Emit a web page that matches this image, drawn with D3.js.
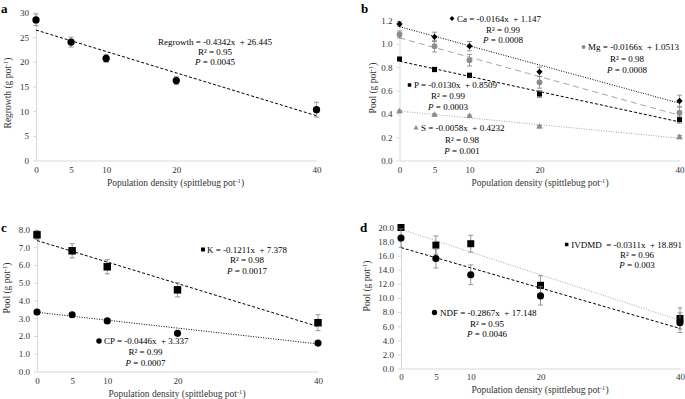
<!DOCTYPE html>
<html><head><meta charset="utf-8">
<script src="https://cdn.jsdelivr.net/npm/d3@7"></script>
<style>
body{margin:0;background:#fff}
svg, svg text{font-family:"Liberation Serif","Times New Roman",serif}
text{white-space:pre}
</style>
</head><body>
<svg id="chart" width="685" height="399" font-family="Liberation Serif, serif"></svg>
<script>
// ---------- data ----------
const density = [0, 5, 10, 20, 40];
const xTickLabels = [0, 5, 10, 20, 40];

const regrowth    = [28.5, 24.0, 20.7, 16.2, 10.3];
const regrowthErr = [1.2, 1.0, 0.8, 0.8, 1.5];

const caPool  = [1.17, 1.06, 0.98, 0.76, 0.51];
const caErr   = [0.02, 0.04, 0.04, 0.04, 0.05];
const mgPool  = [1.08, 0.98, 0.86, 0.67, 0.41];
const mgErr   = [0.03, 0.05, 0.05, 0.05, 0.05];
const pPool   = [0.87, 0.78, 0.73, 0.57, 0.35];
const pErr    = [0.01, 0.02, 0.02, 0.03, 0.03];
const sPool   = [0.42, 0.39, 0.38, 0.29, 0.20];
const sErr    = [0.01, 0.01, 0.01, 0.01, 0.015];

const kPool   = [7.7, 6.8, 5.9, 4.6, 2.75];
const kErr    = [0.25, 0.4, 0.4, 0.4, 0.45];
const cpPool  = [3.35, 3.2, 2.85, 2.15, 1.6];
const cpErr   = [0.05, 0.05, 0.05, 0.05, 0.05];

const ivdmdPool = [20.0, 17.5, 17.7, 11.8, 7.1];
const ivdmdErr  = [0.3, 1.3, 1.2, 1.35, 1.5];
const ndfPool   = [18.5, 15.6, 13.3, 10.3, 6.5];
const ndfErr    = [1.3, 1.35, 1.4, 1.3, 1.4];

// trend lines [slope, intercept] as drawn
const trendRegrowth = [-0.4342, 26.445];
const trendCa = [-0.0164, 1.147];
const trendMg = [-0.0166, 1.0513];
const trendP  = [-0.0130, 0.8509];
const trendS  = [-0.0058, 0.4232];
const trendK  = [-0.1211, 7.378];
const trendCP = [-0.0446, 3.337];
const trendIVDMD = [-0.323, 19.75];
const trendNDF = [-0.2867, 17.148];

const yTicksA = [0, 5, 10, 15, 20, 25, 30];
const yTicksB = [0, 0.2, 0.4, 0.6, 0.8, 1.0, 1.2];
const yTicksC = [0, 1, 2, 3, 4, 5, 6, 7, 8];
const yTicksD = [0, 2, 4, 6, 8, 10, 12, 14, 16, 18, 20];

// ---------- drawing ----------
const FONT = '"Liberation Serif","Times New Roman",serif';
const svg = d3.select("#chart");
const BLACK = "#000", GREY = "#8c8c8c", GREYLINE = "#a6a6a6", AXIS = "#d9d9d9";

function sym(shape, size) {
  const types = {circle: d3.symbolCircle, square: d3.symbolSquare, diamond: d3.symbolSquare, triangle: d3.symbolTriangle};
  return d3.symbol().type(types[shape]).size(size)();
}

function addSup(t, main, sup, tail) {
  t.append("tspan").text(main);
  t.append("tspan").attr("dy", -3.5).attr("font-size", "6.5px").text(sup);
  t.append("tspan").attr("dy", 3.5).text(tail);
}

function panel(cfg) {
  const g = svg.append("g").style("font-family", FONT);
  const x = d3.scaleLinear().domain([0, 40]).range([cfg.x0, cfg.x1]);
  const y = d3.scaleLinear().domain([0, cfg.ymax]).range([cfg.y0, cfg.y1]);

  // y axis
  const ya = g.append("g").attr("transform", `translate(${cfg.x0},0)`)
    .call(d3.axisLeft(y).tickValues(cfg.yTicks).tickSize(3).tickSizeOuter(0).tickPadding(4).tickFormat(cfg.fmt));
  ya.attr("font-family", null).style("font-family", FONT);
  ya.select(".domain").attr("stroke", AXIS);
  ya.selectAll(".tick line").attr("stroke", AXIS);
  ya.selectAll(".tick text").attr("font-size", "9px").attr("fill", "#333");

  // x axis
  const xa = g.append("g").attr("transform", `translate(0,${cfg.y0})`)
    .call(d3.axisBottom(x).tickValues(xTickLabels).tickSize(0).tickSizeOuter(0).tickPadding(cfg.xPad).tickFormat(d3.format("d")));
  xa.attr("font-family", null).style("font-family", FONT);
  xa.select(".domain").attr("stroke", AXIS);
  xa.selectAll(".tick text").attr("font-size", "9px").attr("fill", "#333");

  // axis titles
  const xt = g.append("text").attr("x", cfg.xtX).attr("y", cfg.xtY).attr("text-anchor", "middle")
    .attr("font-size", "9.5px").attr("fill", "#333");
  addSup(xt, "Population density (spittlebug pot", "-1", ")");
  const yt = g.append("text").attr("transform", `translate(${cfg.ytX},${cfg.ytY}) rotate(-90)`)
    .attr("text-anchor", "middle").attr("font-size", "9.5px").attr("fill", "#333");
  addSup(yt, cfg.yTitle + " (g pot", "-1", ")");

  // panel letter
  g.append("text").attr("x", cfg.letterX).attr("y", cfg.letterY).attr("font-size", "13px")
    .attr("font-weight", "bold").text(cfg.letter);

  cfg.series.forEach(s => {
    // trend line
    g.append("line")
      .attr("x1", x(0)).attr("y1", y(s.trend[1]))
      .attr("x2", x(40)).attr("y2", y(s.trend[1] + s.trend[0] * 40))
      .attr("stroke", s.lineColor).attr("stroke-width", 1).attr("stroke-dasharray", s.dash);
    // error bars
    const eb = g.append("g").attr("stroke", "#7f7f7f").attr("stroke-width", 0.8);
    density.forEach((d, i) => {
      const v = s.values[i], e = s.err[i];
      eb.append("line").attr("x1", x(d)).attr("x2", x(d)).attr("y1", y(v - e)).attr("y2", y(v + e));
      eb.append("line").attr("x1", x(d) - 2.5).attr("x2", x(d) + 2.5).attr("y1", y(v - e)).attr("y2", y(v - e));
      eb.append("line").attr("x1", x(d) - 2.5).attr("x2", x(d) + 2.5).attr("y1", y(v + e)).attr("y2", y(v + e));
    });
    // markers
    g.append("g").selectAll("path").data(density).join("path")
      .attr("d", sym(s.shape, s.size))
      .attr("transform", (d, i) => `translate(${x(d)},${y(s.values[i])})${s.shape === "diamond" ? " rotate(45)" : ""}`)
      .attr("fill", s.color);

    // equation label
    const L = s.label;
    const t1 = g.append("text").attr("y", L.ys[0]).attr("font-size", "9px").attr("fill", BLACK);
    if (L.anchor === "middle") t1.attr("x", L.cx).attr("text-anchor", "middle");
    else if (L.xEnd !== undefined) t1.attr("x", L.xEnd).attr("text-anchor", "end");
    else t1.attr("x", L.x1);
    t1.text(L.eq);
    if (L.anchor !== "middle") {
      const bb = t1.node().getBBox();
      g.append("path").attr("d", sym(s.shape, L.msize))
        .attr("transform", `translate(${bb.x - L.mgap},${L.ys[0] - 3})${s.shape === "diamond" ? " rotate(45)" : ""}`)
        .attr("fill", s.color);
    }
    g.append("text").attr("x", L.cx).attr("y", L.ys[1]).attr("text-anchor", "middle")
      .attr("font-size", "9px").text(L.r2);
    const t3 = g.append("text").attr("x", L.cx).attr("y", L.ys[2]).attr("text-anchor", "middle").attr("font-size", "9px");
    t3.append("tspan").attr("font-style", "italic").text("P");
    t3.append("tspan").text(" = " + L.p);
  });
}

panel({
  letter: "a", letterX: 1, letterY: 13,
  x0: 36, x1: 316.5, y0: 160.5, y1: 12.5, ymax: 30, yTicks: yTicksA, fmt: d3.format("d"), xPad: 6,
  xtX: 175.5, xtY: 186, ytX: 11, ytY: 93, yTitle: "Regrowth",
  series: [
    {values: regrowth, err: regrowthErr, trend: trendRegrowth, shape: "circle", size: 42, color: BLACK,
     lineColor: BLACK, dash: "3,2",
     label: {anchor: "middle", cx: 215, ys: [45, 55, 65], eq: "Regrowth = -0.4342x  + 26.445", r2: "R² = 0.95", p: "0.0045"}}
  ]
});

panel({
  letter: "b", letterX: 361, letterY: 13,
  x0: 399.5, x1: 679.5, y0: 160.5, y1: 20.5, ymax: 1.2, yTicks: yTicksB, fmt: d3.format(".1f"), xPad: 6.5,
  xtX: 540, xtY: 186, ytX: 376, ytY: 88, yTitle: "Pool",
  series: [
    {values: caPool, err: caErr, trend: trendCa, shape: "diamond", size: 20, color: BLACK, lineColor: BLACK, dash: "1,1.5",
     label: {mgap: 5, msize: 12, x1: 457, cx: 503, ys: [21.5, 32.5, 42.5], eq: "Ca = -0.0164x  + 1.147", r2: "R² = 0.99", p: "0.0008"}},
    {values: mgPool, err: mgErr, trend: trendMg, shape: "circle", size: 26, color: GREY, lineColor: GREYLINE, dash: "6,4",
     label: {mgap: 4.5, msize: 12, xEnd: 679, cx: 627, ys: [50, 61.5, 72.5], eq: "Mg = -0.0166x  + 1.0513", r2: "R² = 0.98", p: "0.0008"}},
    {values: pPool, err: pErr, trend: trendP, shape: "square", size: 25, color: BLACK, lineColor: BLACK, dash: "3,2",
     label: {mgap: 4.5, msize: 12, x1: 414, cx: 448, ys: [88, 99, 109.5], eq: "P = -0.0130x  + 0.8509", r2: "R² = 0.99", p: "0.0003"}},
    {values: sPool, err: sErr, trend: trendS, shape: "triangle", size: 18, color: GREY, lineColor: GREYLINE, dash: "1,1.5",
     label: {mgap: 5, msize: 11, x1: 421, cx: 462, ys: [131, 142.5, 153.5], eq: "S = -0.0058x  + 0.4232", r2: "R² = 0.98", p: "0.001"}}
  ]
});

panel({
  letter: "c", letterX: 1, letterY: 232,
  x0: 37, x1: 318, y0: 371.5, y1: 229.5, ymax: 8, yTicks: yTicksC, fmt: d3.format(".1f"), xPad: 6,
  xtX: 177, xtY: 397, ytX: 10, ytY: 288, yTitle: "Pool",
  series: [
    {values: kPool, err: kErr, trend: trendK, shape: "square", size: 56, color: BLACK, lineColor: BLACK, dash: "3,2",
     label: {mgap: 4, msize: 16, x1: 207, cx: 247, ys: [252.5, 263, 273.5], eq: "K = -0.1211x  + 7.378", r2: "R² = 0.98", p: "0.0017"}},
    {values: cpPool, err: cpErr, trend: trendCP, shape: "circle", size: 40, color: BLACK, lineColor: BLACK, dash: "1,1.5",
     label: {mgap: 5, msize: 24, x1: 104, cx: 145.5, ys: [344, 355, 365.5], eq: "CP = -0.0446x  + 3.337", r2: "R² = 0.99", p: "0.0007"}}
  ]
});

panel({
  letter: "d", letterX: 360, letterY: 232,
  x0: 401, x1: 680, y0: 368.5, y1: 227.5, ymax: 20, yTicks: yTicksD, fmt: d3.format(".1f"), xPad: 5,
  xtX: 540, xtY: 393, ytX: 370, ytY: 286, yTitle: "Pool",
  series: [
    {values: ivdmdPool, err: ivdmdErr, trend: trendIVDMD, shape: "square", size: 49, color: BLACK, lineColor: GREYLINE, dash: "1,1.5",
     label: {mgap: 4.5, msize: 12, xEnd: 682, cx: 637, ys: [247.5, 257.5, 268], eq: "IVDMD  = -0.0311x  + 18.891", r2: "R² = 0.96", p: "0.003"}},
    {values: ndfPool, err: ndfErr, trend: trendNDF, shape: "circle", size: 40, color: BLACK, lineColor: BLACK, dash: "3,2",
     label: {mgap: 5.5, msize: 22, x1: 440, cx: 487, ys: [315.5, 326.5, 336.5], eq: "NDF = -0.2867x  + 17.148", r2: "R² = 0.95", p: "0.0046"}}
  ]
});
</script>
</body></html>
